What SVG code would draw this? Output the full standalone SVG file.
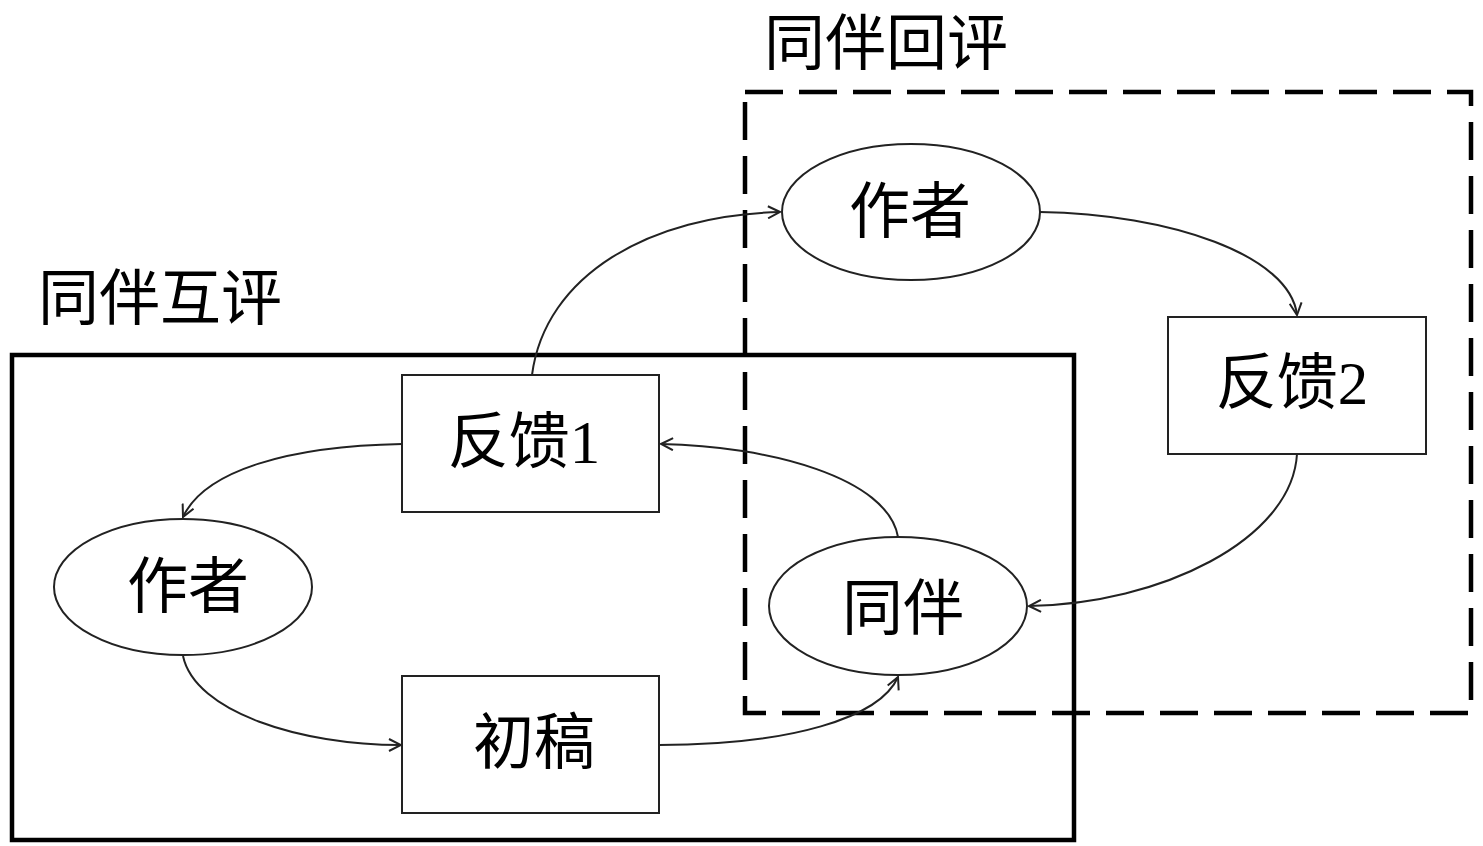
<svg xmlns="http://www.w3.org/2000/svg" width="1483" height="846" viewBox="0 0 1483 846">
<style>
.node{fill:#fff;stroke:#222;stroke-width:2}
.lbl{font-family:"Liberation Serif","Noto Sans CJK SC",serif;font-size:61px;fill:#000;text-anchor:middle}
.title{font-family:"Liberation Serif","Noto Sans CJK SC",serif;font-size:61px;fill:#000}
.conn{fill:none;stroke:#222;stroke-width:2;marker-end:url(#arr)}
</style>
<defs>
<marker id="arr" viewBox="0 0 14 14" refX="13" refY="7" markerWidth="14" markerHeight="14" markerUnits="userSpaceOnUse" orient="auto">
<path d="M1,1 L13,7 L1,13" fill="none" stroke="#222" stroke-width="2"/>
</marker>
</defs>
<rect width="1483" height="846" fill="#fff"/>
<g id="group-peer-review">
<rect x="12" y="355" width="1062" height="485" fill="none" stroke="#000" stroke-width="4.5"/>
<text class="title" x="38" y="320">同伴互评</text>
</g>
<g id="group-peer-back">
<rect x="745" y="92" width="726" height="621" fill="none" stroke="#000" stroke-width="4.5" stroke-dasharray="38,16"/>
<text class="title" x="764" y="65">同伴回评</text>
</g>
<g id="connectors">
<path class="conn" d="M402,444 C290,446 205,470 183,517"/>
<path class="conn" d="M183,656 C195,712 300,745 401,745"/>
<path class="conn" d="M659,745 C790,745 880,718 898,677"/>
<path class="conn" d="M898,537 C888,478 770,446 661,444"/>
<path class="conn" d="M532,375 C545,275 650,215 780,212"/>
<path class="conn" d="M1040,212 C1170,214 1290,255 1297,315"/>
<path class="conn" d="M1297,454 C1292,540 1160,604 1029,606"/>
</g>
<g id="node-feedback1">
<rect class="node" x="402" y="375" width="257" height="137"/>
<text class="lbl" x="524" y="463">反馈1</text>
</g>
<g id="node-author1">
<ellipse class="node" cx="183" cy="587" rx="129" ry="68"/>
<text class="lbl" x="188" y="608">作者</text>
</g>
<g id="node-draft">
<rect class="node" x="402" y="676" width="257" height="137"/>
<text class="lbl" x="534" y="764">初稿</text>
</g>
<g id="node-peer">
<ellipse class="node" cx="898" cy="606" rx="129" ry="69"/>
<text class="lbl" x="903" y="630">同伴</text>
</g>
<g id="node-author2">
<ellipse class="node" cx="911" cy="212" rx="129" ry="68"/>
<text class="lbl" x="910" y="233">作者</text>
</g>
<g id="node-feedback2">
<rect class="node" x="1168" y="317" width="258" height="137"/>
<text class="lbl" x="1292" y="404">反馈2</text>
</g>
</svg>
